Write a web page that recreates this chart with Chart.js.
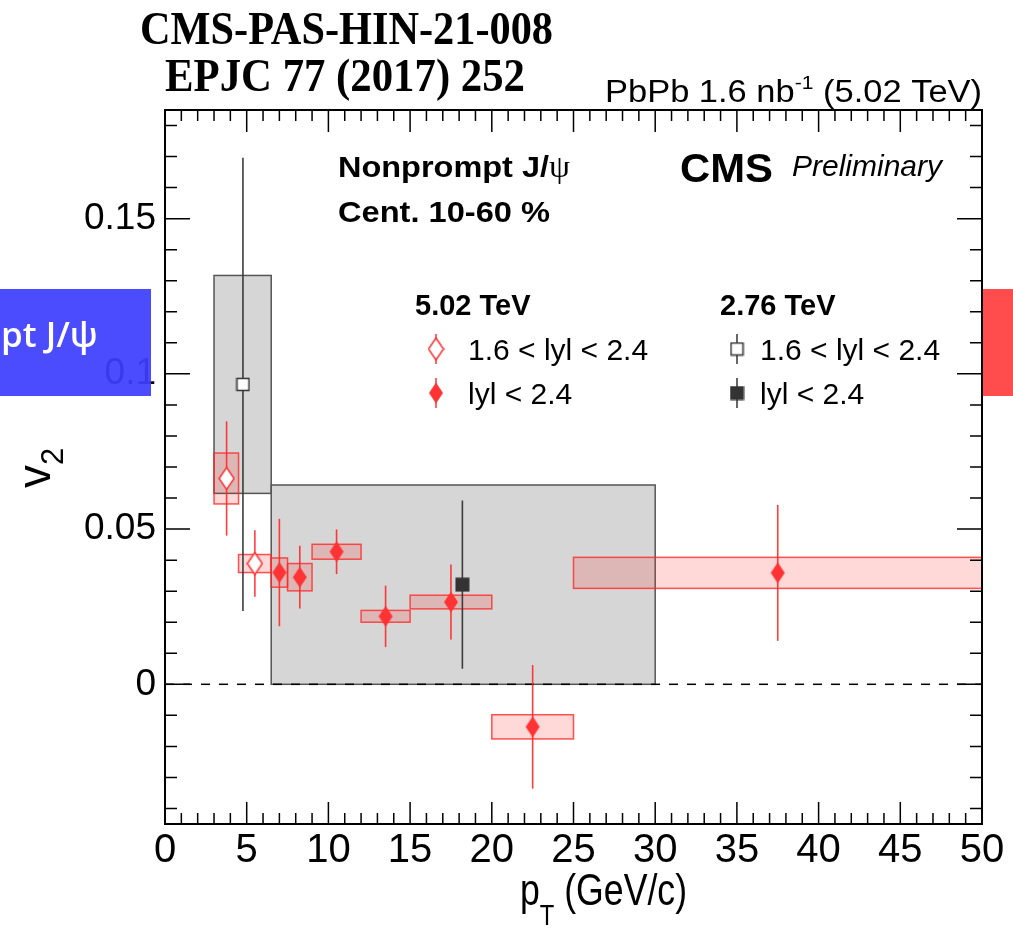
<!DOCTYPE html>
<html>
<head>
<meta charset="utf-8">
<script src="https://cdn.jsdelivr.net/npm/chart.js@4/dist/chart.umd.min.js"></script>
<style>
  html, body { margin: 0; padding: 0; background: #fff; }
  canvas { display: block; }
</style>
</head>
<body>
<canvas id="v2Chart" width="1013" height="930"></canvas>
<script>
const SANS = "'Liberation Sans', Arial, Helvetica, sans-serif";
const SERIF = "'Liberation Serif', 'Times New Roman', serif";

/* --------------- 5.02 TeV, 1.6 < |y| < 2.4 --------------------- */
const pt502Fwd = [3.77, 5.5];
const binLo502Fwd = [3.0, 4.5];
const binHi502Fwd = [4.5, 6.5];
const v2502Fwd = [0.0663, 0.0389];
const stat502Fwd = [0.0184, 0.0107];
const syst502Fwd = [0.0082, 0.0029];

/* --------------- 5.02 TeV, |y| < 2.4 --------------------- */
const pt502 = [7.0, 8.25, 10.5, 13.5, 17.5, 22.5, 37.5];
const binLo502 = [6.5, 7.5, 9, 12, 15, 20, 25];
const binHi502 = [7.5, 9, 12, 15, 20, 25, 50];
const v2502 = [0.036, 0.0345, 0.0427, 0.0219, 0.0265, -0.0137, 0.0359];
const stat502 = [0.0173, 0.0101, 0.0072, 0.0099, 0.0121, 0.0199, 0.0219];
const syst502 = [0.0047, 0.0044, 0.0024, 0.0019, 0.0022, 0.0039, 0.005];

/* --------------- 2.76 TeV (EPJC 77 (2017) 252) --------------------- */
const pt276Fwd = [4.77];
const binLo276Fwd = [3.0];
const binHi276Fwd = [6.5];
const v2276Fwd = [0.0966];
const stat276Fwd = [0.073];
const syst276Fwd = [0.0351];

const pt276 = [18.2];
const binLo276 = [6.5];
const binHi276 = [30];
const v2276 = [0.0321];
const stat276 = [0.0271];
const syst276 = [0.0321];

/* --------------- Axis ticks --------------------- */
const xTicks = [0, 5, 10, 15, 20, 25, 30, 35, 40, 45, 50];
const yTicks = [0, 0.05, 0.1, 0.15];

/* --------------- Markers --------------------- */
const RED = "#ff3333";
const DARK = "#333333";

function makeMarker(w, h, draw) {
  const c = document.createElement("canvas");
  c.width = w;
  c.height = h;
  draw(c.getContext("2d"), w, h);
  return c;
}
function diamondPath(g, w, h) {
  g.beginPath();
  g.moveTo(w / 2, 1);
  g.lineTo(w - 1, h / 2);
  g.lineTo(w / 2, h - 1);
  g.lineTo(1, h / 2);
  g.closePath();
}
const openDiamond = makeMarker(17, 24, (g, w, h) => {
  diamondPath(g, w, h);
  g.fillStyle = "#fff";
  g.fill();
  g.strokeStyle = RED;
  g.lineWidth = 1.5;
  g.stroke();
});
const fullDiamond = makeMarker(16, 23, (g, w, h) => {
  diamondPath(g, w, h);
  g.fillStyle = RED;
  g.fill();
});
const openSquare = makeMarker(15, 15, (g) => {
  g.fillStyle = "#fff";
  g.fillRect(1, 1, 13, 13);
  g.strokeStyle = DARK;
  g.lineWidth = 1.5;
  g.strokeRect(1.5, 1.5, 12, 12);
});
const fullSquare = makeMarker(15, 15, (g) => {
  g.fillStyle = DARK;
  g.fillRect(0.5, 0.5, 14, 14);
});

/* --------------- Series table built from the arrays --------------------- */
const redBox = { fill: "rgba(255,40,40,0.18)", line: "rgba(255,40,40,0.8)", bar: "rgba(255,40,40,0.9)" };
const grayBox = { fill: "#d6d6d6", line: "#555555", bar: "#3c3c3c" };

function makeSeries(pt, lo, hi, v2, stat, syst, style, marker) {
  return { pt, lo, hi, v2, stat, syst, style, marker };
}
const series = [
  makeSeries(pt276Fwd, binLo276Fwd, binHi276Fwd, v2276Fwd, stat276Fwd, syst276Fwd, grayBox, openSquare),
  makeSeries(pt276, binLo276, binHi276, v2276, stat276, syst276, grayBox, fullSquare),
  makeSeries(pt502Fwd, binLo502Fwd, binHi502Fwd, v2502Fwd, stat502Fwd, syst502Fwd, redBox, openDiamond),
  makeSeries(pt502, binLo502, binHi502, v2502, stat502, syst502, redBox, fullDiamond),
];

/* --------------- Helpers --------------------- */
// draw pieces of text one after another, squeezed to a given width if asked
function drawParts(ctx, parts, x, y, width) {
  let total = 0;
  parts.forEach((p) => {
    ctx.font = p.font;
    p.w = ctx.measureText(p.t).width;
    total += p.w;
  });
  const s = width ? width / total : 1;
  ctx.save();
  ctx.translate(x, y);
  ctx.scale(s, 1);
  ctx.textAlign = "left";
  ctx.textBaseline = "alphabetic";
  let cx = 0;
  parts.forEach((p) => {
    ctx.font = p.font;
    ctx.fillStyle = p.color || "#000";
    ctx.fillText(p.t, cx, p.dy || 0);
    cx += p.w;
  });
  ctx.restore();
}

/* --------------- Boxes, error bars, frame, texts --------------------- */
const rootPlugin = {
  id: "rootStyle",
  beforeDatasetsDraw(chart) {
    const { ctx, chartArea: a, scales } = chart;
    const xs = scales.x, ys = scales.y;
    ctx.save();
    ctx.beginPath();
    ctx.rect(a.left, a.top, a.right - a.left, a.bottom - a.top);
    ctx.clip();

    const drawBoxes = (s) => {
      s.pt.forEach((_, i) => {
        const x0 = xs.getPixelForValue(s.lo[i]);
        const x1 = xs.getPixelForValue(s.hi[i]);
        const y0 = ys.getPixelForValue(s.v2[i] + s.syst[i]);
        const y1 = ys.getPixelForValue(s.v2[i] - s.syst[i]);
        ctx.fillStyle = s.style.fill;
        ctx.fillRect(x0, y0, x1 - x0, y1 - y0);
        ctx.strokeStyle = s.style.line;
        ctx.lineWidth = 1.5;
        ctx.strokeRect(x0, y0, x1 - x0, y1 - y0);
      });
    };
    const drawBars = (s) => {
      s.pt.forEach((_, i) => {
        const x = xs.getPixelForValue(s.pt[i]);
        ctx.strokeStyle = s.style.bar;
        ctx.lineWidth = 1.6;
        ctx.beginPath();
        ctx.moveTo(x, ys.getPixelForValue(s.v2[i] + s.stat[i]));
        ctx.lineTo(x, ys.getPixelForValue(s.v2[i] - s.stat[i]));
        ctx.stroke();
      });
    };

    series.filter((s) => s.style === grayBox).forEach(drawBoxes);

    // dashed line at zero
    const y0 = ys.getPixelForValue(0);
    ctx.strokeStyle = "#000";
    ctx.lineWidth = 1.5;
    ctx.setLineDash([9, 9]);
    ctx.beginPath();
    ctx.moveTo(a.left, y0);
    ctx.lineTo(a.right, y0);
    ctx.stroke();
    ctx.setLineDash([]);

    series.filter((s) => s.style === redBox).forEach(drawBoxes);
    series.forEach(drawBars);
    ctx.restore();
  },
  afterDraw(chart) {
    const { ctx, chartArea: a, scales } = chart;
    const xs = scales.x, ys = scales.y;
    ctx.save();

    // ticks on all four sides, pointing inwards
    ctx.strokeStyle = "#000";
    ctx.lineWidth = 1.5;
    ctx.beginPath();
    for (let v = 0; v <= 50; v += 1) {
      const x = xs.getPixelForValue(v);
      const len = v % 5 === 0 ? 22 : 11;
      ctx.moveTo(x, a.bottom);
      ctx.lineTo(x, a.bottom - len);
      ctx.moveTo(x, a.top);
      ctx.lineTo(x, a.top + len);
    }
    for (let k = -4; k <= 18; k++) {
      const y = ys.getPixelForValue(k / 100);
      const len = k % 5 === 0 ? 25 : 12;
      ctx.moveTo(a.left, y);
      ctx.lineTo(a.left + len, y);
      ctx.moveTo(a.right, y);
      ctx.lineTo(a.right - len, y);
    }
    ctx.stroke();

    // frame
    ctx.lineWidth = 2;
    ctx.strokeRect(a.left, a.top, a.right - a.left, a.bottom - a.top);

    // axis titles
    drawParts(ctx, [
      { t: "p", font: "45px " + SANS },
      { t: "T", font: "30px " + SANS, dy: 20 },
      { t: " (GeV/c)", font: "45px " + SANS },
    ], 520, 905, 167);

    ctx.save();
    ctx.translate(50, 488);
    ctx.rotate(-Math.PI / 2);
    drawParts(ctx, [
      { t: "v", font: "46px " + SANS },
      { t: "2", font: "31px " + SANS, dy: 13 },
    ], 0, 0);
    ctx.restore();

    // top labels
    drawParts(ctx, [{ t: "CMS-PAS-HIN-21-008", font: "bold 46px " + SERIF }], 140, 44, 413);
    drawParts(ctx, [{ t: "EPJC 77 (2017) 252", font: "bold 46px " + SERIF }], 165, 91, 360);
    drawParts(ctx, [
      { t: "PbPb 1.6 nb", font: "31px " + SANS },
      { t: "-1", font: "19px " + SANS, dy: -13 },
      { t: " (5.02 TeV)", font: "31px " + SANS },
    ], 605, 102, 377);

    // in-frame labels
    drawParts(ctx, [
      { t: "Nonprompt J/", font: "bold 30px " + SANS },
      { t: "\u03c8", font: "31px " + SERIF },
    ], 338, 177, 232);
    drawParts(ctx, [{ t: "Cent. 10-60 %", font: "bold 30px " + SANS }], 338, 222, 212);
    drawParts(ctx, [{ t: "CMS", font: "bold 41px " + SANS }], 680, 182, 93);
    drawParts(ctx, [{ t: "Preliminary", font: "italic 29px " + SANS }], 792, 176, 150);

    // legend
    drawParts(ctx, [{ t: "5.02 TeV", font: "bold 29px " + SANS }], 415, 315);
    drawParts(ctx, [{ t: "2.76 TeV", font: "bold 29px " + SANS }], 720, 315);
    const rows = [
      { mx: 436, my: 349, img: openDiamond, col: RED, tx: 468, t: "1.6 < lyl < 2.4" },
      { mx: 436, my: 393, img: fullDiamond, col: RED, tx: 468, t: "lyl < 2.4" },
      { mx: 737, my: 349, img: openSquare, col: DARK, tx: 760, t: "1.6 < lyl < 2.4" },
      { mx: 737, my: 393, img: fullSquare, col: DARK, tx: 760, t: "lyl < 2.4" },
    ];
    rows.forEach((r) => {
      ctx.strokeStyle = r.col;
      ctx.lineWidth = 1.5;
      ctx.beginPath();
      ctx.moveTo(r.mx, r.my - 15);
      ctx.lineTo(r.mx, r.my + 15);
      ctx.stroke();
      ctx.drawImage(r.img, r.mx - r.img.width / 2, r.my - r.img.height / 2);
      drawParts(ctx, [{ t: r.t, font: "30px " + SANS }], r.tx, r.my + 11);
    });

    // overlay tabs sitting on top of the figure
    ctx.fillStyle = "rgba(62,62,255,0.93)";
    ctx.fillRect(0, 289, 151, 107);
    drawParts(ctx, [{ t: "pt J/\u03c8", font: "600 35px 'Open Sans', " + SANS, color: "#fff" }], 1, 347);
    ctx.fillStyle = "#ff4d4d";
    ctx.fillRect(983, 289, 30, 107);

    ctx.restore();
  },
};

/* --------------- Chart --------------------- */
const pointSets = series.map((s) => ({
  data: s.pt.map((x, i) => ({ x, y: s.v2[i] })),
  pointStyle: s.marker,
  pointRadius: 8,
  showLine: false,
}));

const v2Chart = new Chart(document.getElementById("v2Chart"), {
  type: "scatter",
  data: { datasets: pointSets.reverse() },
  plugins: [rootPlugin],
  options: {
    responsive: false,
    animation: false,
    devicePixelRatio: 1,
    layout: { padding: { left: 0, right: 31, top: 110, bottom: 0 } },
    plugins: { legend: { display: false }, tooltip: { enabled: false } },
    scales: {
      x: {
        type: "linear",
        min: 0,
        max: 50,
        afterBuildTicks: (s) => { s.ticks = xTicks.map((v) => ({ value: v })); },
        afterFit: (s) => { s.height = 106; },
        grid: { display: false, drawTicks: false },
        border: { display: false },
        ticks: {
          color: "#000",
          padding: 3,
          maxRotation: 0,
          autoSkip: false,
          font: { family: SANS, size: 40 },
          callback: (v) => String(v),
        },
      },
      y: {
        type: "linear",
        min: -0.045,
        max: 0.185,
        afterBuildTicks: (s) => { s.ticks = yTicks.map((v) => ({ value: v })); },
        afterFit: (s) => { s.width = 165; },
        grid: { display: false, drawTicks: false },
        border: { display: false },
        ticks: {
          color: "#000",
          padding: 9,
          autoSkip: false,
          font: { family: SANS, size: 37 },
          callback: (v) => String(+v.toFixed(2)),
        },
      },
    },
  },
});
</script>
</body>
</html>
